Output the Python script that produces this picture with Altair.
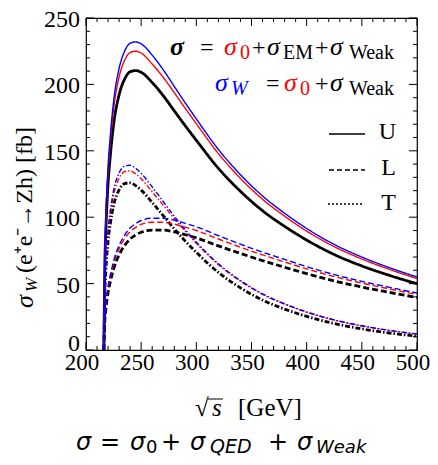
import altair as alt
import pandas as pd

# ---------------- data ----------------
energy = [216.2, 217, 218, 220, 222, 225, 230, 235, 240, 245, 250, 260, 270, 280,
          290, 300, 320, 340, 360, 380, 400, 425, 450, 475, 500]

blue_U = [0, 67, 99, 138, 161, 187, 212, 225, 231, 232, 230.5, 222, 211, 198.5,
          186, 174, 151, 132, 116, 103, 91.5, 79.5, 70, 62, 55]
blue_L = [0, 22.5, 33.5, 47.5, 56.3, 66.9, 78.7, 86.5, 91.9, 95.2, 97.5, 99.2, 99.2, 97.7,
          95.4, 92.8, 86.1, 79.7, 73.7, 68.2, 62.8, 56.8, 51.7, 47.2, 42.9]
blue_T = [0, 44.5, 65.5, 90.5, 104.7, 120.1, 133.3, 138.5, 139.1, 136.8, 133, 122.8, 111.8, 100.8,
          90.6, 81.2, 64.9, 52.3, 42.3, 34.8, 28.7, 22.7, 18.3, 14.8, 12.1]
red_U = [0, 65, 96, 133.9, 156.2, 181.4, 205.6, 218.2, 224, 225, 223.6, 215.3, 205.3, 193.8,
         181.9, 170.4, 147.9, 129.2, 113.5, 100.8, 89.5, 77.8, 68.5, 60.7, 53.8]
red_L = [0, 21.8, 32.5, 46.1, 54.6, 64.9, 76.3, 83.9, 89.1, 92.3, 94.6, 96.2, 96.2, 94.8,
         92.5, 90.0, 83.6, 77.4, 71.6, 66.3, 61.1, 55.3, 50.4, 46.0, 41.8]
red_T = [0, 43.2, 63.5, 87.8, 101.6, 116.5, 129.3, 134.3, 134.9, 132.7, 129.0, 119.1, 109.1, 99.0,
         89.4, 80.4, 64.3, 51.8, 41.9, 34.5, 28.4, 22.5, 18.1, 14.7, 12.0]
black_U = [0, 60.8, 89.8, 125.1, 146, 169.6, 192.2, 204, 209.5, 210.4, 209.1, 201.4, 191.5, 180.1,
           168.8, 157.9, 136.8, 119.5, 104.9, 93.1, 82.8, 71.9, 63.3, 56.2, 49.9]
black_L = [0, 20.5, 30.5, 43.2, 51.2, 60.9, 71.6, 78.7, 83.6, 86.6, 88.7, 90.3, 90.3, 88.9,
           86.8, 84.4, 78.4, 72.7, 67.3, 62.3, 57.5, 52.0, 47.4, 43.4, 39.5]
black_T = [0, 40.3, 59.3, 81.9, 94.8, 108.7, 120.6, 125.3, 125.9, 123.8, 120.4, 111.1, 101.2, 91.2,
           82.0, 73.5, 58.4, 46.8, 37.6, 30.8, 25.3, 19.9, 15.9, 12.8, 10.4]

pols = ["U", "L", "T"]
x_major = [200, 250, 300, 350, 400, 450, 500]
x_minor = [v for v in range(200, 501, 10) if v % 50]
y_major = [0, 50, 100, 150, 200, 250]
y_minor = [v for v in range(0, 251, 10) if v % 50]

# ---------------- layout ----------------
W, H = 331, 332
OX, OY = 86, 18          # page position of plot origin
SERIF = "Liberation Serif"
SANS = "DejaVu Sans"

xs = alt.Scale(domain=[200, 500], nice=False, zero=False)
ys = alt.Scale(domain=[0, 250], nice=False)

dash_scale = alt.Scale(domain=pols, range=[[1, 0], [6, 3], [5, 2, 1.5, 2]])


def curves(color, sets, width):
    rows = []
    for pol, vals in zip(pols, sets):
        for e, v in zip(energy, vals):
            rows.append({"e": e, "s": v, "pol": pol})
    df = pd.DataFrame(rows)
    return alt.Chart(df).mark_line(color=color, strokeWidth=width, interpolate="monotone").encode(
        x=alt.X("e:Q", scale=xs, axis=None),
        y=alt.Y("s:Q", scale=ys, axis=None),
        detail="pol:N",
        strokeDash=alt.StrokeDash("pol:N", scale=dash_scale, legend=None),
    )


def xticks(vals, L):
    base = alt.Chart(pd.DataFrame({"v": vals}))
    b = base.mark_rule(color="black", strokeWidth=1).encode(
        x=alt.X("v:Q", scale=xs, axis=None), y=alt.value(H), y2=alt.value(H - L))
    t = base.mark_rule(color="black", strokeWidth=1).encode(
        x=alt.X("v:Q", scale=xs, axis=None), y=alt.value(0), y2=alt.value(L))
    return [b, t]


def yticks(vals, L):
    base = alt.Chart(pd.DataFrame({"v": vals}))
    l = base.mark_rule(color="black", strokeWidth=1).encode(
        y=alt.Y("v:Q", scale=ys, axis=None), x=alt.value(0), x2=alt.value(L))
    r = base.mark_rule(color="black", strokeWidth=1).encode(
        y=alt.Y("v:Q", scale=ys, axis=None), x=alt.value(W), x2=alt.value(W - L))
    return [l, r]


# tick labels (positioned through the scales)
xlab = alt.Chart(pd.DataFrame({"v": x_major, "t": [str(v) for v in x_major]})).mark_text(
    font=SERIF, fontSize=23, baseline="alphabetic", align="center", color="black", dx=-4
).encode(x=alt.X("v:Q", scale=xs, axis=None), y=alt.value(H + 20), text="t:N")
ydf = pd.DataFrame({"v": y_major, "t": [str(v) for v in y_major]})
ylab = alt.Chart(ydf[ydf["v"] > 0]).mark_text(
    font=SERIF, fontSize=24, baseline="alphabetic", align="right", color="black", dy=9
).encode(y=alt.Y("v:Q", scale=ys, axis=None), x=alt.value(-6), text="t:N")
ylab0 = alt.Chart(ydf[ydf["v"] == 0]).mark_text(
    font=SERIF, fontSize=24, baseline="alphabetic", align="right", color="black", dy=1
).encode(y=alt.Y("v:Q", scale=ys, axis=None), x=alt.value(-6), text="t:N")

one = pd.DataFrame({"a": [0]})


def txt(s, x, y, size, color="black", style="normal", weight="normal", font=SERIF,
        align="left", angle=0):
    return alt.Chart(one).mark_text(
        text=s, align=align, baseline="alphabetic", fontSize=size, font=font,
        fontStyle=style, fontWeight=weight, color=color, angle=angle
    ).encode(x=alt.value(x - OX), y=alt.value(y - OY))


def seg(x1, x2, y, dash, width=1.5):
    return alt.Chart(one).mark_rule(color="black", strokeWidth=width, strokeDash=dash).encode(
        x=alt.value(x1 - OX), x2=alt.value(x2 - OX), y=alt.value(y - OY))


layers = []
layers += xticks(x_minor, 4) + xticks(x_major, 8) + yticks(y_minor, 4) + yticks(y_major, 8)
layers += [xlab, ylab, ylab0]
layers += [curves("black", [black_U, black_L, black_T], 2.8),
           curves("#ff0000", [red_U, red_L, red_T], 1.4),
           curves("#0000ff", [blue_U, blue_L, blue_T], 1.4)]

RED, BLUE = "#ff0000", "#0000ff"
# formula legend, line 1 (right-aligned block ending near x=394)
L1, S1 = 55, 59
layers += [
    txt("σ", 170, L1, 26, style="italic", weight="bold"),
    txt("=", 200, L1, 24),
    txt("σ", 224, L1, 26, color=RED, style="italic"),
    txt("0", 240, S1, 20, color=RED),
    txt("+", 252, L1, 24),
    txt("σ", 267, L1, 26, style="italic"),
    txt("EM", 283, S1, 20),
    txt("+", 315, L1, 24),
    txt("σ", 330, L1, 26, style="italic"),
    txt("Weak", 394, S1, 20, align="right"),
]
# line 2
L2, S2 = 91, 95
layers += [
    txt("σ", 215, L2, 26, color=BLUE, style="italic"),
    txt("W", 231, S2, 20, color=BLUE, style="italic"),
    txt("=", 266, L2, 24),
    txt("σ", 284, L2, 26, color=RED, style="italic"),
    txt("0", 300, S2, 20, color=RED),
    txt("+", 315, L2, 24),
    txt("σ", 330, L2, 26, style="italic"),
    txt("Weak", 394, S2, 20, align="right"),
]
# polarisation legend
layers += [
    seg(329, 365, 134, [1, 0]), txt("U", 396, 139, 24, align="right"),
    seg(329, 365, 170, [5, 3]), txt("L", 396, 175, 24, align="right"),
    seg(328, 363, 204, [2, 2]), txt("T", 396, 210, 24, align="right"),
]
# y-axis title (rotated)
layers += [
    txt("σ", 33, 308, 26, style="italic", angle=270),
    txt("W", 37, 292, 17, style="italic", angle=270),
    txt("(e⁺e⁻→Zh) [fb]", 32, 273, 24, angle=270),
]
# x-axis title
layers += [
    txt("√", 195, 416, 25),
    seg(208, 223, 399, [1, 0], width=1.2),
    txt("s", 212, 416, 25, style="italic"),
    txt("[GeV]", 238, 416, 25),
]
# caption
CB, CS = 450, 453
layers += [
    txt("σ", 76, CB, 24, font=SANS, style="italic"),
    txt("=", 100, CB, 24, font=SANS),
    txt("σ", 130, CB, 24, font=SANS, style="italic"),
    txt("0", 146, CS, 18, font=SANS),
    txt("+", 161, CB, 24, font=SANS),
    txt("σ", 190, CB, 24, font=SANS, style="italic"),
    txt("QED", 210, CS, 19, font=SANS, style="italic"),
    txt("+", 268, CB, 24, font=SANS),
    txt("σ", 297, CB, 24, font=SANS, style="italic"),
    txt("Weak", 316, CS, 18, font=SANS, style="italic"),
]

chart = alt.layer(*layers).properties(
    width=W, height=H,
    autosize=alt.AutoSizeParams(type="none"),
    padding={"left": 78, "top": 10, "right": 13, "bottom": 107},
).configure_view(stroke="black", strokeWidth=1.2)

chart.save("out.html", embed_options={"renderer": "svg", "actions": False})
